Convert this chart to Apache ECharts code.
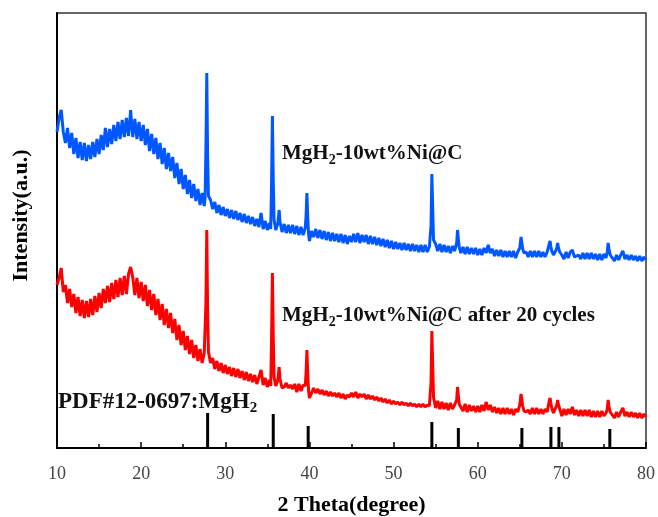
<!DOCTYPE html>
<html>
<head>
<meta charset="utf-8">
<script src="https://cdn.jsdelivr.net/npm/echarts@6/dist/echarts.min.js"></script>
<style>
  html, body { margin: 0; padding: 0; background: #fff; }
  #chart { width: 658px; height: 517px; }
</style>
</head>
<body>
<div id="chart"></div>
<script>
// 2θ grid (degree), same for both patterns
const twoTheta = [
  10, 10.25, 10.5, 10.75, 11, 11.25, 11.5, 11.75, 12, 12.25, 12.5, 12.75, 13, 13.25, 13.5, 13.75, 14, 14.25, 14.5, 14.75,
  15, 15.25, 15.5, 15.75, 16, 16.25, 16.5, 16.75, 17, 17.25, 17.5, 17.75, 18, 18.25, 18.5, 18.75, 19, 19.25, 19.5, 19.75,
  20, 20.25, 20.5, 20.75, 21, 21.25, 21.5, 21.75, 22, 22.25, 22.5, 22.75, 23, 23.25, 23.5, 23.75, 24, 24.25, 24.5, 24.75,
  25, 25.25, 25.5, 25.75, 26, 26.25, 26.5, 26.75, 27, 27.25, 27.5,
  27.6, 27.7, 27.8, 27.9, 28,
  28.25, 28.5, 28.75, 29, 29.25, 29.5, 29.75, 30, 30.25, 30.5, 30.75, 31, 31.25, 31.5, 31.75, 32, 32.25, 32.5, 32.75, 33,
  33.25, 33.5, 33.75, 34, 34.25, 34.5, 34.75, 35, 35.25,
  35.4, 35.5, 35.6, 35.7, 35.8, 36, 36.25, 36.4, 36.5, 36.75,
  37, 37.25, 37.5, 37.75, 38, 38.25, 38.5, 38.75, 39, 39.25,
  39.5, 39.6, 39.7, 39.8, 39.9, 40,
  40.25, 40.5, 40.75, 41, 41.25, 41.5, 41.75, 42, 42.25, 42.5, 42.75, 43, 43.25, 43.5, 43.75, 44, 44.25, 44.5, 44.75, 45,
  45.25, 45.5, 45.75, 46, 46.25, 46.5, 46.75, 47, 47.25, 47.5, 47.75, 48, 48.25, 48.5, 48.75, 49, 49.25, 49.5, 49.75, 50,
  50.25, 50.5, 50.75, 51, 51.25, 51.5, 51.75, 52, 52.25, 52.5, 52.75, 53, 53.25, 53.5, 53.75, 54, 54.25,
  54.45, 54.55, 54.65, 54.75,
  55, 55.25, 55.5, 55.75, 56, 56.25, 56.5, 56.75, 57, 57.25,
  57.5, 57.6, 57.7, 57.8,
  58, 58.25, 58.5, 58.75, 59, 59.25, 59.5, 59.75, 60, 60.25, 60.5, 60.75, 61, 61.25, 61.5, 61.75, 62, 62.25, 62.5, 62.75,
  63, 63.25, 63.5, 63.75, 64, 64.25, 64.5, 64.75,
  65, 65.15, 65.25, 65.35,
  65.5, 65.75, 66, 66.25, 66.5, 66.75, 67, 67.25, 67.5, 67.75, 68, 68.25,
  68.5, 68.6, 68.7, 68.8, 69, 69.25, 69.4, 69.5, 69.6, 69.75,
  70, 70.25, 70.5, 70.75, 71, 71.25, 71.5, 71.75, 72, 72.25, 72.5, 72.75, 73, 73.25, 73.5, 73.75, 74, 74.25, 74.5, 74.75,
  75, 75.25,
  75.4, 75.5, 75.6, 75.75,
  76, 76.25, 76.5, 76.75, 77, 77.25, 77.5, 77.75, 78, 78.25, 78.5, 78.75, 79, 79.25, 79.5, 79.75, 80
];

// MgH2-10wt%Ni@C (blue)
const blueCounts = [
  316, 330, 338, 316, 305, 320, 300, 315, 294, 310, 290, 306, 288, 305, 287, 303, 289, 306, 291, 309,
  294, 313, 298, 320, 301, 319, 304, 323, 307, 326, 309, 328, 311, 330, 312, 338, 311, 329, 309, 326,
  307, 323, 303, 319, 297, 314, 294, 310, 289, 305, 284, 300, 279, 295, 277, 291, 270, 285, 264, 279,
  259, 273, 254, 268, 250, 264, 247, 259, 243, 255, 242,
  250, 300, 375, 292, 252,
  248, 239, 246, 235, 243, 233, 241, 232, 239, 230, 238, 229, 237, 228, 235, 226, 234, 225, 232, 224,
  231, 222, 229, 221, 235, 219, 227, 218, 225,
  219, 265, 332, 268, 228, 218, 225, 238, 226, 216,
  224, 215, 223, 215, 223, 214, 222, 213, 221, 213,
  220, 232, 255, 231, 214, 207,
  217, 211, 219, 210, 218, 209, 217, 208, 216, 207, 215, 207, 214, 206, 214, 205, 213, 204, 212, 206,
  214, 206, 215, 205, 213, 206, 213, 204, 212, 204, 211, 203, 210, 202, 209, 201, 208, 200, 207, 199,
  206, 199, 205, 198, 205, 198, 204, 197, 204, 197, 203, 196, 203, 196, 203, 196, 201,
  222, 274, 240, 208,
  204, 197, 204, 196, 203, 196, 202, 195, 202, 197,
  205, 218, 209, 201,
  195, 201, 194, 201, 194, 200, 194, 200, 193, 199, 193, 200, 195, 203, 195, 199, 192, 198, 192, 198,
  191, 197, 191, 197, 191, 197, 190, 196,
  200, 211, 205, 199,
  195, 196, 191, 197, 191, 197, 191, 197, 191, 196, 191, 196,
  204, 207, 201, 197, 193, 197, 200, 205, 200, 196,
  193, 189, 196, 190, 196, 198, 191, 192, 193, 189, 195, 189, 195, 189, 195, 189, 194, 188, 194, 188,
  194, 190,
  196, 205, 199, 193,
  190, 187, 193, 188, 193, 197, 189, 193, 188, 193, 188, 192, 187, 192, 187, 191, 188
];

// MgH2-10wt%Ni@C after 20 cycles (red)
const redCounts = [
  163, 170, 180, 156, 163, 145, 159, 141, 154, 135, 151, 132, 148, 130, 147, 131, 149, 133, 152, 136,
  155, 140, 159, 145, 162, 146, 165, 149, 168, 151, 170, 153, 172, 154, 174, 181, 171, 153, 170, 150,
  166, 147, 163, 142, 158, 138, 154, 133, 149, 128, 144, 123, 139, 120, 135, 115, 129, 108, 123, 103,
  117, 98, 112, 94, 108, 90, 103, 87, 99, 85, 95,
  93, 145, 218, 137, 96,
  85, 90, 79, 87, 77, 85, 75, 83, 74, 81, 72, 80, 71, 79, 70, 77, 68, 76, 67, 74,
  66, 73, 64, 71, 78, 63, 70, 61, 68,
  62, 108, 175, 111, 71, 62, 68, 81, 69, 60,
  61, 65, 60, 63, 59, 64, 56, 64, 57, 63,
  62, 75, 98, 74, 57, 50,
  55, 60, 55, 59, 54, 58, 53, 57, 52, 56, 52, 55, 51, 55, 50, 54, 49, 53, 51, 55,
  51, 56, 50, 54, 51, 54, 49, 53, 49, 52, 48, 51, 47, 50, 46, 49, 45, 48, 44, 47,
  44, 46, 43, 46, 43, 45, 42, 45, 42, 44, 41, 44, 41, 44, 41, 43, 42,
  65, 117, 83, 51,
  40, 47, 39, 46, 39, 45, 38, 45, 39, 43,
  48, 61, 52, 44,
  43, 37, 44, 36, 43, 37, 42, 36, 42, 36, 43, 37, 46, 38, 43, 36, 41, 35, 40, 34,
  40, 34, 40, 34, 39, 33, 39, 36,
  43, 54, 48, 42,
  37, 36, 38, 34, 40, 34, 40, 34, 39, 34, 39, 36,
  47, 50, 44, 40, 35, 40, 43, 48, 43, 39,
  32, 39, 33, 39, 34, 41, 33, 38, 32, 38, 32, 38, 32, 38, 31, 37, 31, 37, 31, 37,
  32, 35,
  39, 48, 42, 36,
  33, 30, 36, 31, 36, 40, 32, 36, 31, 36, 31, 35, 30, 35, 30, 34, 31
];

// PDF#12-0697 reference lines
const pdfPeaks = [27.9, 35.7, 39.85, 54.55, 57.7, 65.25, 68.7, 69.65, 75.7];
const pdfHeights = [35, 34, 22, 26, 20, 20, 21, 21, 19];

const chart = echarts.init(document.getElementById('chart'));
const serif = 'Liberation Serif';

function pairs(xs, ys) {
  const n = Math.min(xs.length, ys.length);
  const out = [];
  for (let i = 0; i < n; i++) out.push([xs[i], ys[i]]);
  return out;
}

function label(x, y, text, size, subSize, subPad) {
  return {
    type: 'text',
    x: x,
    y: y,
    style: {
      text: text,
      verticalAlign: 'middle',
      align: 'left',
      rich: {
        m: { fontSize: size, fontFamily: serif, fontWeight: 'bold', fill: '#111' },
        s: { fontSize: subSize, fontFamily: serif, fontWeight: 'bold', fill: '#111', padding: [subPad, 0, 0, 0] }
      }
    }
  };
}

chart.setOption({
  animation: false,
  backgroundColor: '#fff',
  grid: {
    left: 57, right: 12, top: 13, bottom: 69,
    outerBoundsMode: 'none',
    containLabel: false,
    show: true, borderColor: '#333', borderWidth: 1.5
  },
  xAxis: {
    type: 'value',
    min: 10, max: 80, interval: 10,
    name: '2 Theta(degree)',
    nameLocation: 'middle',
    nameGap: 46,
    nameTextStyle: { fontFamily: serif, fontWeight: 'bold', fontSize: 22, color: '#000' },
    axisLine: { lineStyle: { color: '#000', width: 2 } },
    axisTick: { inside: true, length: 6, lineStyle: { color: '#000', width: 1.5 } },
    minorTick: { show: true, splitNumber: 2, length: 4, lineStyle: { color: '#000', width: 1.5 } },
    axisLabel: { fontFamily: serif, fontSize: 18, color: '#444', margin: 17 },
    splitLine: { show: false }
  },
  yAxis: {
    type: 'value',
    min: 0, max: 435,
    name: 'Intensity(a.u.)',
    nameLocation: 'middle',
    nameGap: 25,
    nameTextStyle: { fontFamily: serif, fontWeight: 'bold', fontSize: 22, color: '#000', padding: [0, 0, 0, 30] },
    axisLine: { show: true, lineStyle: { color: '#000', width: 2 } },
    axisTick: { show: false },
    axisLabel: { show: false },
    splitLine: { show: false }
  },
  series: [
    {
      name: 'MgH2-10wt%Ni@C',
      type: 'line',
      data: pairs(twoTheta, blueCounts),
      showSymbol: false,
      lineStyle: { color: '#0057ff', width: 3 },
      z: 3
    },
    {
      name: 'MgH2-10wt%Ni@C after 20 cycles',
      type: 'line',
      data: pairs(twoTheta, redCounts),
      showSymbol: false,
      lineStyle: { color: '#ff0000', width: 3 },
      z: 3
    },
    {
      name: 'PDF#12-0697',
      type: 'bar',
      data: pairs(pdfPeaks, pdfHeights),
      barWidth: 3,
      itemStyle: { color: '#000' }
    }
  ],
  graphic: [
    label(282, 154, '{m|MgH}{s|2}{m|-10wt%Ni@C}', 21, 14, 12),
    label(282, 316, '{m|MgH}{s|2}{m|-10wt%Ni@C after 20 cycles}', 21, 14, 12),
    label(58, 402, '{m|PDF#12-0697:MgH}{s|2}', 23, 15, 13)
  ]
});
</script>
</body>
</html>
